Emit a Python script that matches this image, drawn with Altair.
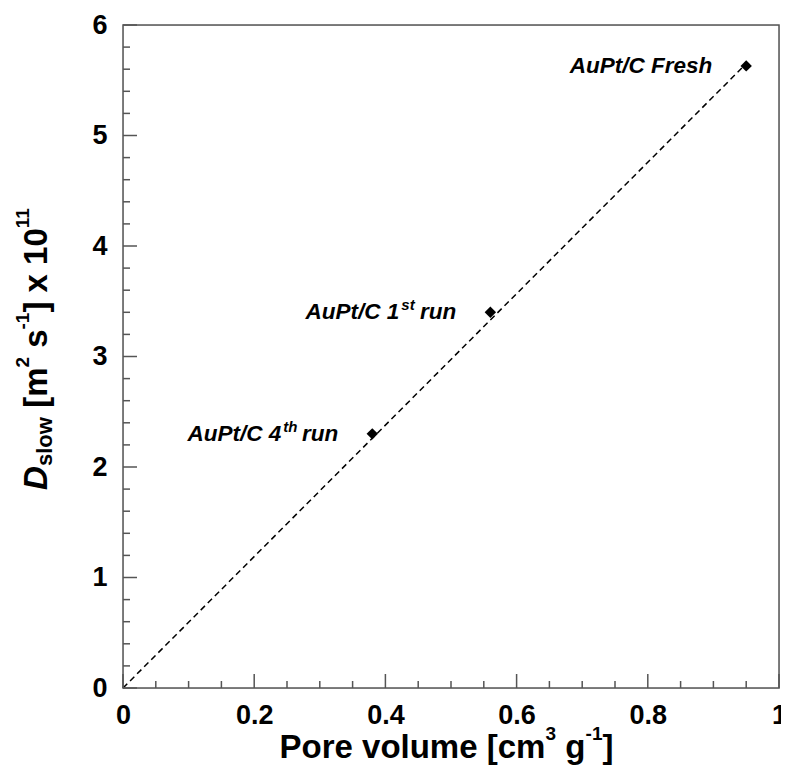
import altair as alt
import pandas as pd

# ---- data ----
samples = ["AuPt/C Fresh", "AuPt/C 1st run", "AuPt/C 4th run"]
pore_volume = [0.95, 0.56, 0.38]
d_slow = [5.63, 3.40, 2.30]
NB = "\u00a0"
label_head = ["", "AuPt/C 1", "AuPt/C 4"]
label_sup = ["", "st", "th"]
label_tail = ["AuPt/C Fresh", NB + "run", NB + "run"]

fit_x = [0.0, 0.95]
fit_y = [0.0, 5.65]

x_major = [0, 0.2, 0.4, 0.6, 0.8, 1.0]
x_minor = [0.05, 0.1, 0.15, 0.25, 0.3, 0.35, 0.45, 0.5, 0.55,
           0.65, 0.7, 0.75, 0.85, 0.9, 0.95]
y_major = [0, 1, 2, 3, 4, 5, 6]
y_minor = [0.2, 0.4, 0.6, 0.8, 1.2, 1.4, 1.6, 1.8, 2.2, 2.4, 2.6, 2.8,
           3.2, 3.4, 3.6, 3.8, 4.2, 4.4, 4.6, 4.8, 5.2, 5.4, 5.6, 5.8]

W, H = 656, 663
FONT = "Liberation Sans"
FRAME = "#555555"

xs = alt.Scale(domain=[0, 1], nice=False, zero=False)
ys = alt.Scale(domain=[0, 6], nice=False, zero=False)

axis_common = dict(ticks=False, tickSize=0, domain=False, grid=False,
                   labelFont=FONT, labelFontWeight="bold", labelFontSize=27,
                   labelColor="black", labelFlush=False, labelOverlap=False,
                   title=None)
x_axis = alt.Axis(values=x_major, format=".1~f", labelPadding=14, **axis_common)
y_axis = alt.Axis(values=y_major, format="d", labelPadding=16, **axis_common)

X = alt.X("x:Q", scale=xs, axis=x_axis)
Y = alt.Y("y:Q", scale=ys, axis=y_axis)

pts = pd.DataFrame({"sample": samples, "x": pore_volume, "y": d_slow,
                    "head": label_head, "sup": label_sup, "tail": label_tail})
fit = pd.DataFrame({"x": fit_x, "y": fit_y})
one = pd.DataFrame({"a": [0]})

points = alt.Chart(pts).mark_point(shape="diamond", filled=True, color="black",
                                   size=130, opacity=1).encode(x=X, y=Y)

line = alt.Chart(fit).mark_line(color="black", strokeWidth=1.5,
                                strokeDash=[6, 4]).encode(x=X, y=Y)

# plot frame as an unfilled rectangle over the whole plot area
frame = alt.Chart(one).mark_rect(fill="transparent", stroke=FRAME,
                                 strokeWidth=1.5).encode(
    x=alt.value(0), x2=alt.value(W), y=alt.value(0), y2=alt.value(H))

lab_font = dict(font=FONT, fontWeight="bold", fontStyle="italic", color="black")
tails = alt.Chart(pts).mark_text(align="right", baseline="alphabetic", dx=-34, dy=7,
                                 fontSize=22.5, **lab_font).encode(x=X, y=Y, text="tail:N")
heads = alt.Chart(pts).mark_text(align="right", baseline="alphabetic", dx=-91, dy=7,
                                 fontSize=22.5, **lab_font).encode(x=X, y=Y, text="head:N")
sups = alt.Chart(pts).mark_text(align="left", baseline="alphabetic", dx=-89, dy=-2,
                                fontSize=15, **lab_font).encode(x=X, y=Y, text="sup:N")

# inward ticks
def xticks(vals, length):
    return alt.Chart(pd.DataFrame({"x": vals})).mark_rule(
        color=FRAME, strokeWidth=1.5).encode(
        x=X, y=alt.value(H), y2=alt.value(H - length))

def yticks(vals, length):
    return alt.Chart(pd.DataFrame({"y": vals})).mark_rule(
        color=FRAME, strokeWidth=1.5).encode(
        y=Y, x=alt.value(0), x2=alt.value(length))

# composed axis titles (with super/subscripts)
def piece(text, px, py, size, angle=0, italic=False):
    kw = dict(align="left", baseline="alphabetic", font=FONT, fontWeight="bold",
              fontSize=size, color="black")
    if angle:
        kw["angle"] = angle
    if italic:
        kw["fontStyle"] = "italic"
    return alt.Chart(one).mark_text(**kw).encode(
        x=alt.value(px), y=alt.value(py), text=alt.value(text))

xt_base = 733
xt_sup = 715
x_title = [
    piece("Pore" + NB + "volume" + NB + "[cm", 156.5, xt_base, 33),
    piece("3", 422.4, xt_sup, 19),
    piece("g", 442.2, xt_base, 33),
    piece("-1", 462.6, xt_sup, 19),
    piece("]", 479.5, xt_base, 33),
]

yb, ysup, ysub = -76, -94, -71
y_title = [
    piece("D", yb, 465, 33, angle=270, italic=True),
    piece("slow", ysub, 441, 22, angle=270),
    piece("[m", yb, 382.8, 33, angle=270),
    piece("2", ysup, 342.6, 19, angle=270),
    piece("s", yb, 322.8, 33, angle=270),
    piece("-1", ysup, 304.5, 19, angle=270),
    piece("]" + NB + "x" + NB + "10", yb, 287.6, 33, angle=270),
    piece("11", ysup, 203.2, 19, angle=270),
]

chart = alt.layer(
    line,
    xticks(x_major, 14), xticks(x_minor, 7),
    yticks(y_major, 14), yticks(y_minor, 7),
    frame,
    tails, heads, sups, points,
    *x_title, *y_title,
).properties(
    width=W, height=H,
    autosize=alt.AutoSizeParams(type="none"),
    padding={"left": 115, "top": 17, "right": 2, "bottom": 77},
).configure_view(
    strokeWidth=0
).configure(background="white")

chart.save("out.html", embed_options={"renderer": "svg", "actions": False})
